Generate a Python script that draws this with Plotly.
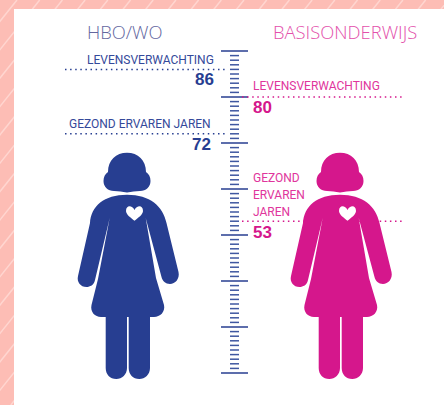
import plotly.graph_objects as go

# ---- data ----
groups = ["HBO/WO", "BASISONDERWIJS"]
life_expectancy = [86, 80]
healthy_years = [72, 53]
life_label = "LEVENSVERWACHTING"
healthy_label_one_line = "GEZOND ERVAREN JAREN"
healthy_label_stacked = ["GEZOND", "ERVAREN", "JAREN"]
ruler_min_age = 20
ruler_max_age = 90

BLUE = "#273e91"
PINK = "#d5178c"
BLUE_TEXT = "#34499a"
PINK_TEXT = "#e0359c"
BAND = "#fdbdb5"
STRIPE = "#ffd6d0"
FONT = "Roboto, Open Sans, sans-serif"
TITLEF = "Open Sans, sans-serif"
NUMF = "Liberation Sans, Arial, sans-serif"

fig = go.Figure()

# ---- ruler, on the age axis ----
minor_x, minor_y, major_x, major_y = [], [], [], []
for age in range(ruler_min_age, ruler_max_age + 1):
    if age % 10 == 0:
        major_x += [221, 248, None]
        major_y += [age, age, None]
    else:
        minor_x += [230, 239, None]
        minor_y += [age, age, None]
fig.add_trace(go.Scatter(x=minor_x, y=minor_y, mode="lines", line=dict(color="#3f57a0", width=1.5), hoverinfo="skip"))
fig.add_trace(go.Scatter(x=major_x, y=major_y, mode="lines", line=dict(color=BLUE, width=1.5), hoverinfo="skip"))

# ---- dotted age levels ----
DOT = "1.5px,3.6px"
for age in (life_expectancy[0], healthy_years[0]):
    fig.add_trace(go.Scatter(x=[65, 228], y=[age, age], mode="lines", line=dict(color=BLUE, width=1.5, dash=DOT), hoverinfo="skip"))
for age in (life_expectancy[1], healthy_years[1]):
    fig.add_trace(go.Scatter(x=[242, 404], y=[age, age], mode="lines", line=dict(color=PINK, width=1.5, dash=DOT), hoverinfo="skip"))
# keeps the pixel axis alive for shapes
fig.add_trace(go.Scatter(x=[0], y=[0], yaxis="y2", mode="markers", marker=dict(opacity=0), hoverinfo="skip"))


def sh(**k):
    k.setdefault("xref", "x")
    k.setdefault("yref", "y2")
    fig.add_shape(**k)


# ---- background band ----
sh(type="rect", x0=0, x1=444, y0=0, y1=405, fillcolor=BAND, line_width=0, layer="below")
c = 17 - 22.7
while c < 800:
    sh(type="line", x0=c, y0=0, x1=c - 0.8 * 405, y1=405, line=dict(color=STRIPE, width=1.5), layer="below")
    c += 22.7
sh(type="rect", x0=14, x1=444, y0=9, y1=405, fillcolor="white", line_width=0, layer="below")


# ---- pictogram ----
def P(template, dx):
    out = []
    for tok in template.split():
        if "," in tok:
            a, b = tok.split(",")
            out.append(f"{float(a) + dx},{b}")
        else:
            out.append(tok)
    return " ".join(out)


HEAD = ("M 108,172 C 108,160 116,152.7 127,152.7 C 138,152.7 146,160 146,172 C 149,174 150.5,177 150.5,181 "
        "C 150.5,187 146,191 140,191 C 135,191 132,192 127,192.5 C 122,192 119,191 114,191 "
        "C 108,191 103.5,187 103.5,181 C 103.5,177 105,174 108,172 Z")
BODY = ("M 127,194.7 C 150,194.7 163,206 166.5,223 L 178.5,272 C 180,279 175,284 170,284 C 165.5,284 162.5,281 161.5,277 "
        "L 145.7,218 L 156,278 L 164,305 C 165.5,312 160,317 154,317 L 150,317 L 150,368 C 150,374.5 145,379 139.3,379 "
        "C 133,379 128.7,374.5 128.7,368 L 128.7,317 L 127,317 L 127,368 C 127,374.5 122,379 116.3,379 "
        "C 110,379 105.7,374.5 105.7,368 L 105.7,317 L 101,317 C 95,317 90,312 91.5,305 L 98,279 "
        "L 109.7,218 L 95,280 C 94,285 90,287 86.5,287 C 80.5,287 76.5,282 78,276 L 90,223 C 91,206 104,194.7 127,194.7 Z")
HEART = ("M 134.5,210 C 132,205 126,205 126,211 C 126,214.5 131,218 134.5,220.7 "
         "C 138,218 143,214.5 143,211 C 143,205 137,205 134.5,210 Z")
for dx, col in ((0, BLUE), (213, PINK)):
    sh(type="path", path=P(HEAD, dx), fillcolor=col, line_width=0, layer="above")
    sh(type="path", path=P(BODY, dx), fillcolor=col, line_width=0, layer="above")
    sh(type="path", path=P(HEART, dx), fillcolor="white", line_width=0, layer="above")


# ---- text ----
def T(text, x, y, col, size, anchor="left", fam=FONT, bold=False, weight=None):
    f = dict(family=fam, size=size, color=col)
    if bold:
        f["weight"] = 700
    if weight:
        f["weight"] = weight
    fig.add_annotation(text=text, x=x, y=y, xref="x", yref="y2", xanchor=anchor, yanchor="middle",
                       showarrow=False, font=f, borderpad=0, borderwidth=0)


T(groups[0], 124.5, 31, "#63679f", 18.4, "center", TITLEF, weight=300)
T(groups[1], 345, 31, "#e350ab", 18.4, "center", TITLEF, weight=300)
T(life_label, 214, 59.5, BLUE_TEXT, 12, "right")
T(healthy_label_one_line, 211, 123.5, BLUE_TEXT, 12, "right")
T(str(life_expectancy[0]), 214, 79, BLUE, 17, "right", NUMF, True)
T(str(healthy_years[0]), 211, 144.5, BLUE, 17, "right", NUMF, True)
T(life_label, 253, 86, PINK_TEXT, 12)
T(str(life_expectancy[1]), 253, 107.5, PINK, 17, "left", NUMF, True)
for line, y in zip(healthy_label_stacked, (177.5, 195, 211.5)):
    T(line, 253, y, PINK_TEXT, 12)
T(str(healthy_years[1]), 253, 232, PINK, 17, "left", NUMF, True)

fig.update_layout(
    width=444, height=405, autosize=False, showlegend=False,
    margin=dict(l=0, r=0, t=0, b=0), paper_bgcolor="white", plot_bgcolor="white",
    xaxis=dict(range=[0, 444], visible=False, fixedrange=True),
    # 4.6 px per year, age 80 at 97 px
    yaxis=dict(range=[80 - 308 / 4.6, 80 + 97 / 4.6], visible=False, fixedrange=True),
    yaxis2=dict(range=[405, 0], visible=False, overlaying="y", fixedrange=True),
)
fig.write_html("out.html", config=dict(displayModeBar=False),
               post_script="document.body.style.margin='0';document.documentElement.style.overflow='hidden';")
